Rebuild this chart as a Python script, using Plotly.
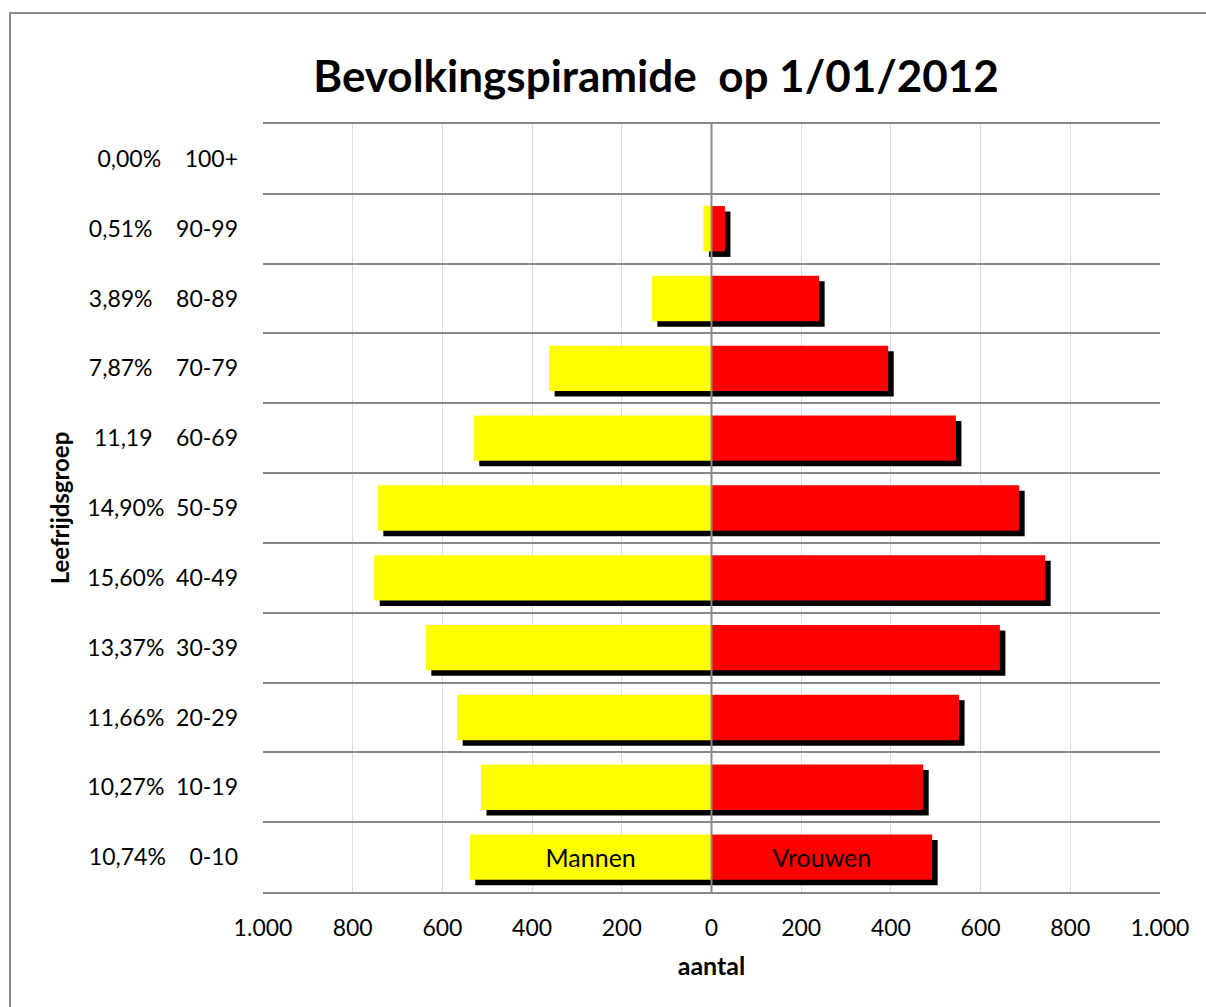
import plotly.graph_objects as go

# ---------------- data ----------------
age_groups = ["0-10", "10-19", "20-29", "30-39", "40-49", "50-59",
              "60-69", "70-79", "80-89", "90-99", "100+"]
percentages = ["10,74%", "10,27%", "11,66%", "13,37%", "15,60%", "14,90%",
               "11,19", "7,87%", "3,89%", "0,51%", "0,00%"]
gaps = [4, 2, 2, 2, 2, 2, 4, 4, 4, 4, 4]  # spacing between % and age group in label
men = [539, 514, 567, 637, 752, 744, 530, 362, 133, 18, 0]
women = [492, 472, 552, 643, 744, 686, 545, 394, 240, 30, 0]
x_ticks = [-1000, -800, -600, -400, -200, 0, 200, 400, 600, 800, 1000]
x_ticktext = ["1.000", "800", "600", "400", "200", "0", "200", "400", "600", "800", "1.000"]
series_names = ["Mannen", "Vrouwen"]

# ---------------- layout geometry ----------------
W, H = 1206, 1007
ML, MR, MT, MB = 263, 46, 124, 115
plot_w = W - ML - MR
plot_h = H - MT - MB
x_range = [-1000, 1000]
units_per_px = (x_range[1] - x_range[0]) / plot_w
cat_px = plot_h / len(age_groups)
shadow_px = 5.5
dx = shadow_px * units_per_px          # shadow shift (data units)
dy = shadow_px / cat_px                # shadow shift (category units)
bar_w = 0.65

FONT = "Lato"
YELLOW = "#FFFF00"
RED = "#FF0000"
GRID_DARK = "#898989"
GRID_LIGHT = "#DCDCDC"

tick_labels = [p + "\u00a0" * g + a for p, g, a in zip(percentages, gaps, age_groups)]
men_neg = [-v for v in men]

fig = go.Figure()

# shadows (drawn first, below)
for vals in (men_neg, women):
    fig.add_trace(go.Bar(
        y=age_groups, x=vals, base=dx, orientation="h",
        width=bar_w, offset=-bar_w / 2 - dy,
        marker=dict(color="black", line=dict(width=0)),
        showlegend=False, hoverinfo="skip",
    ))

# main bars
label_idx = 0
for name, vals, col in ((series_names[0], men_neg, YELLOW), (series_names[1], women, RED)):
    texts = [name if i == label_idx else "" for i in range(len(age_groups))]
    fig.add_trace(go.Bar(
        y=age_groups, x=vals, orientation="h", name=name,
        width=bar_w, offset=-bar_w / 2,
        marker=dict(color=col, line=dict(width=0)),
        text=texts, textposition="inside", insidetextanchor="middle",
        textfont=dict(family=FONT, size=25, color="black"),
        constraintext="none", cliponaxis=False,
        showlegend=False,
    ))

# zero line above bars
fig.add_shape(type="line", xref="x", yref="paper", x0=0, x1=0, y0=0, y1=1,
              line=dict(color=GRID_DARK, width=2), layer="above")

# outer chart border (partially outside the view)
bx0 = (10 - ML) / plot_w
by1 = (H - MB - 13) / plot_h
fig.add_shape(type="rect", xref="paper", yref="paper",
              x0=bx0, x1=1.5, y0=-0.5, y1=by1,
              line=dict(color="#8C8C8C", width=2), fillcolor="rgba(0,0,0,0)", layer="below")

fig.update_layout(
    width=W, height=H,
    margin=dict(l=ML, r=MR, t=MT, b=MB, pad=0),
    paper_bgcolor="white", plot_bgcolor="white",
    barmode="overlay",
    font=dict(family=FONT, size=23, color="black"),
    title=dict(text="<b>Bevolkingspiramide  op 1/01/2012</b>",
               x=656 / W, xref="container", xanchor="center",
               y=1 - 77 / H, yref="container", yanchor="middle",
               font=dict(family=FONT, size=44, color="black")),
    xaxis=dict(range=x_range, tickvals=x_ticks, ticktext=x_ticktext,
               showgrid=True, gridcolor=GRID_LIGHT, gridwidth=1,
               zeroline=False, showline=True, linecolor=GRID_DARK, linewidth=2,
               mirror=True, ticks="", ticklabelstandoff=14,
               tickfont=dict(family=FONT, size=23, color="black"),
               title=dict(text="<b>aantal</b>", standoff=18,
                          font=dict(family=FONT, size=25, color="black")),
               fixedrange=True),
    yaxis=dict(type="category", categoryorder="array", categoryarray=age_groups,
               tickvals=age_groups, ticktext=tick_labels,
               range=[-0.5, len(age_groups) - 0.5],
               tickson="boundaries", showgrid=True, gridcolor=GRID_DARK, gridwidth=2,
               zeroline=False, showline=False, ticks="", ticklabelstandoff=24,
               tickfont=dict(family=FONT, size=23, color="black"),
               title=dict(text="<b>Leefrijdsgroep</b>", standoff=10,
                          font=dict(family=FONT, size=24, color="black")),
               fixedrange=True),
)

fig.write_html("out.html", config={"displayModeBar": False},
               post_script="document.body.style.margin='0';document.body.style.padding='0';")
